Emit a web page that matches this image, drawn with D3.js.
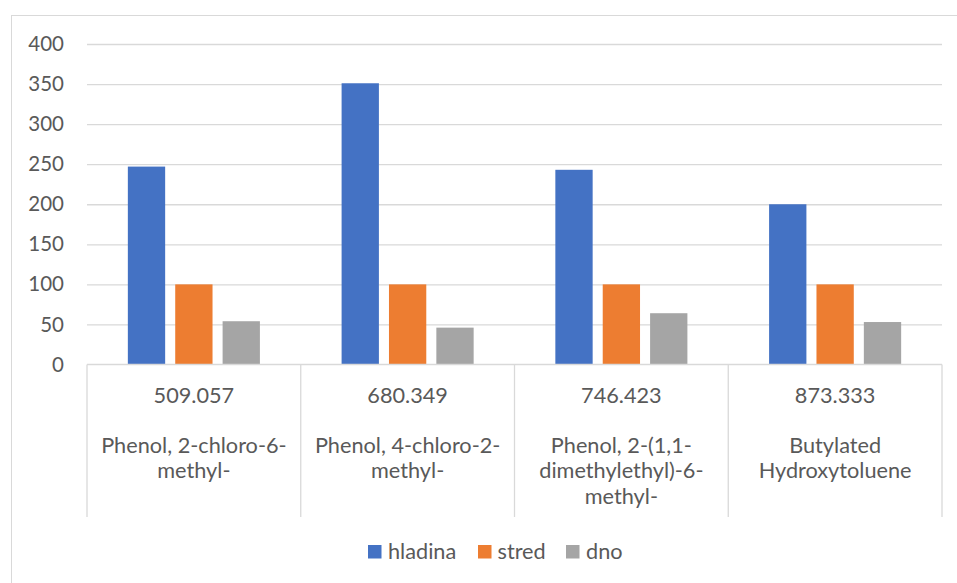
<!DOCTYPE html>
<html>
<head>
<meta charset="utf-8">
<script src="https://cdn.jsdelivr.net/npm/d3@7"></script>
<style>
  html, body { margin: 0; padding: 0; background: #fff; }
  svg { display: block; }
  text { font-family: Lato, "Open Sans", sans-serif; fill: #595959; }
</style>
</head>
<body>
<svg id="chart" width="957" height="583"></svg>
<script>
// Retention indices and compound names (each name split into its wrapped lines)
const retention = ["509.057", "680.349", "746.423", "873.333"];
const compounds = [
  ["Phenol, 2-chloro-6-", "methyl-"],
  ["Phenol, 4-chloro-2-", "methyl-"],
  ["Phenol, 2-(1,1-", "dimethylethyl)-6-", "methyl-"],
  ["Butylated", "Hydroxytoluene"]
];
const seriesNames = ["hladina", "stred", "dno"];
const hladina = [247, 351, 243, 200];
const stred = [100, 100, 100, 100];
const dno = [54, 46, 64, 53];
const yTicks = [0, 50, 100, 150, 200, 250, 300, 350, 400];
const colors = ["#4472C4", "#ED7D31", "#A5A5A5"];

const seriesValues = [hladina, stred, dno];
const svg = d3.select("#chart");

// Outer chart frame (runs off the right and bottom edges)
svg.append("rect")
  .attr("x", 11.5).attr("y", 15.5)
  .attr("width", 1000).attr("height", 1000)
  .attr("fill", "none").attr("stroke", "#d9d9d9").attr("stroke-width", 1);

const plot = { left: 87, right: 942, top: 44, bottom: 364.5 };

const x = d3.scaleBand().domain(retention).range([plot.left, plot.right]).padding(0);
const y = d3.scaleLinear().domain([0, 400]).range([plot.bottom, plot.top]);

// Bars inside each category: bar width w, gap between bars 0.27w, outer gap 2.19w
const gapRatio = 0.27, outerRatio = 2.19;
const barW = x.bandwidth() / (3 + 2 * gapRatio + outerRatio);
const xInner = i => (outerRatio / 2) * barW + i * (barW * (1 + gapRatio));

// Horizontal gridlines
const yAxis = d3.axisLeft(y).tickValues(yTicks).tickSize(-(plot.right - plot.left)).tickPadding(23);
const gy = svg.append("g").attr("transform", `translate(${plot.left},0)`).call(yAxis);
gy.select(".domain").remove();
gy.selectAll(".tick line").attr("stroke", "#d9d9d9").attr("stroke-width", 1.3)
  .filter(d => d === 0).remove();
gy.selectAll(".tick text")
  .style("font-family", "Lato, 'Open Sans', sans-serif")
  .attr("font-size", 20.5).attr("fill", "#595959");

// Bars
seriesValues.forEach((vals, si) => {
  svg.append("g").selectAll("rect")
    .data(vals)
    .join("rect")
    .attr("x", (d, i) => x(retention[i]) + xInner(si))
    .attr("y", d => y(d))
    .attr("width", barW)
    .attr("height", d => y(0) - y(d))
    .attr("fill", colors[si]);
});

// Category axis: baseline plus dividers between categories
const axisBottom = 517;
svg.append("line")
  .attr("x1", plot.left).attr("x2", plot.right)
  .attr("y1", y(0)).attr("y2", y(0))
  .attr("stroke", "#d9d9d9").attr("stroke-width", 1.3);
const bounds = retention.map(r => x(r)).concat([x(retention[retention.length - 1]) + x.bandwidth()]);
svg.append("g").selectAll("line")
  .data(bounds)
  .join("line")
  .attr("x1", d => d).attr("x2", d => d)
  .attr("y1", y(0)).attr("y2", axisBottom)
  .attr("stroke", "#d9d9d9").attr("stroke-width", 1.3);

// Category labels: retention index on top, compound name below
const labelSize = 21.7;
const labels = svg.append("g").selectAll("g")
  .data(retention)
  .join("g")
  .attr("transform", d => `translate(${x(d) + x.bandwidth() / 2},0)`);
labels.append("text")
  .attr("y", 395).attr("dy", "0.35em")
  .attr("text-anchor", "middle").attr("font-size", labelSize)
  .text(d => d);
labels.each(function(d, i) {
  const t = d3.select(this).append("text")
    .attr("text-anchor", "middle").attr("font-size", labelSize);
  compounds[i].forEach((line, li) => {
    t.append("tspan").attr("x", 0).attr("y", 445 + li * 25.5).attr("dy", "0.35em").text(line);
  });
});

// Legend
const legendItems = [
  { name: seriesNames[0], sx: 368, tx: 388 },
  { name: seriesNames[1], sx: 478, tx: 497.5 },
  { name: seriesNames[2], sx: 566, tx: 586 }
];
const lg = svg.append("g").selectAll("g").data(legendItems).join("g");
lg.append("rect")
  .attr("x", d => d.sx).attr("y", 545)
  .attr("width", 13.5).attr("height", 13.5)
  .attr("fill", (d, i) => colors[i]);
lg.append("text")
  .attr("x", d => d.tx).attr("y", 551.5).attr("dy", "0.35em")
  .attr("font-size", labelSize)
  .text(d => d.name);
</script>
</body>
</html>
